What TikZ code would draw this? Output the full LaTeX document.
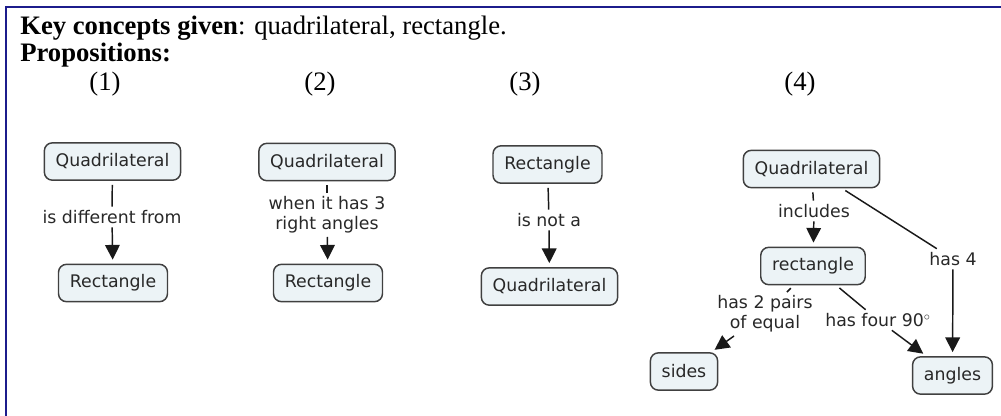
\documentclass[tikz,border=0pt]{standalone}
\usepackage{fontspec}
\setmainfont{Liberation Serif}
\newfontfamily\mapfont{DejaVu Sans}
\usetikzlibrary{arrows.meta}
\definecolor{framecol}{RGB}{28,28,140}
\definecolor{boxfill}{RGB}{236,243,246}
\definecolor{boxline}{RGB}{64,64,64}
\definecolor{mapink}{RGB}{40,40,40}
\tikzset{
    concept/.style={draw=boxline, fill=boxfill, line width=1.1pt, rounded corners=6pt,
        font=\mapfont\fontsize{13}{15}\selectfont, text=mapink,
        inner xsep=8.5pt, inner ysep=0pt, minimum height=28pt},
    linkword/.style={font=\mapfont\fontsize{13}{15}\selectfont, text=mapink,
        align=center, inner xsep=2pt, inner ysep=2.5pt},
    link/.style={draw=black!90, line width=1.1pt, shorten <=3pt},
    tolink/.style={link, shorten <=0pt, shorten >=3pt,
        -{Triangle[width=11pt,length=11pt]}},
    heading/.style={anchor=base west, inner sep=0pt, font=\fontsize{20}{24}\selectfont},
    number/.style={anchor=base, inner sep=0pt, font=\fontsize{20}{24}\selectfont}
}
\begin{document}
\begin{tikzpicture}[x=0.75pt, y=-0.75pt]
    \useasboundingbox (0,0) rectangle (1001,415);
    % Marco
    \draw[framecol, line width=2pt] (6,420) -- (6,7) -- (1006,7);
    % Encabezado
    \node[heading] (given) at (20,34) {\textbf{Key concepts given}: quadrilateral, rectangle.};
    \node[heading] (props) at (20,61) {\textbf{Propositions:}};
    \node[number] (n1) at (105,90) {(1)};
    \node[number] (n2) at (320,90) {(2)};
    \node[number] (n3) at (525,90) {(3)};
    \node[number] (n4) at (800,90) {(4)};
    % Proposicion 1
    \node[concept] (quadA) at (112.5,161.5) {Quadrilateral};
    \node[concept] (rectA) at (113,283) {Rectangle};
    \node[linkword] (diffA) at (112,217) {is different from};
    \draw[link] (quadA) -- (diffA);
    \draw[tolink] (diffA) -- (rectA);
    % Proposicion 2
    \node[concept] (quadB) at (327,162) {Quadrilateral};
    \node[concept] (rectB) at (328,283) {Rectangle};
    \node[linkword] (whenB) at (327,215) {when it has 3\\right angles};
    \draw[link] (quadB) -- (whenB);
    \draw[tolink] (whenB) -- (rectB);
    % Proposicion 3
    \node[concept] (rectC) at (547.5,164.5) {Rectangle};
    \node[concept] (quadC) at (549.5,286.5) {Quadrilateral};
    \node[linkword] (notC) at (549,220) {is not a};
    \draw[link] (rectC) -- (notC);
    \draw[tolink] (notC) -- (quadC);
    % Proposicion 4
    \node[concept] (quadD) at (811.5,169) {Quadrilateral};
    \node[concept] (rectD) at (813,266) {rectangle};
    \node[concept] (sidesD) at (684,371.5) {sides};
    \node[concept] (anglesD) at (952.5,375.5) {angles};
    \node[linkword] (inclD) at (814,211) {includes};
    \node[linkword] (fourD) at (953,259) {has 4};
    \node[linkword] (pairsD) at (765,314) {has 2 pairs\\of equal};
    \node[linkword] (ninetyD) at (878,320) {has four 90$^\circ$};
    \draw[link] (quadD) -- (inclD);
    \draw[tolink] (inclD) -- (rectD);
    \draw[link] (quadD) -- (fourD);
    \draw[tolink] (fourD) -- (anglesD);
    \draw[link] (rectD) -- (pairsD);
    \draw[tolink] (pairsD) -- (sidesD);
    \draw[link] (rectD) -- (ninetyD);
    \draw[tolink] (ninetyD) -- (anglesD);
\end{tikzpicture}
\end{document}
